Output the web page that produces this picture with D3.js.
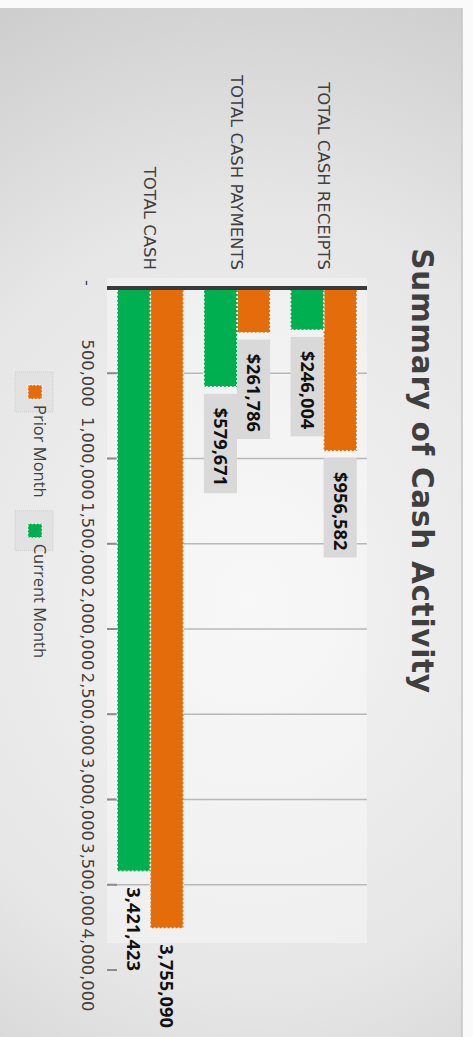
<!DOCTYPE html>
<html><head><meta charset="utf-8">
<script src="https://cdn.jsdelivr.net/npm/d3@7"></script>
<style>html,body{margin:0;padding:0;background:#fff;}svg{display:block;}</style>
</head><body><svg id="c" width="473" height="1037"></svg>
<script>
const categories = ["TOTAL CASH RECEIPTS", "TOTAL CASH PAYMENTS", "TOTAL CASH"];
const seriesNames = ["Prior Month", "Current Month"];
const priorMonth = [956582, 261786, 3755090];
const currentMonth = [246004, 579671, 3421423];
const labelPrefix = ["$", "$", ""];
const labelBoxed = [true, true, false];
const tickValues = [0, 500000, 1000000, 1500000, 2000000, 2500000, 3000000, 3500000, 4000000];
const tickLabels = ["-", "500,000", "1,000,000", "1,500,000", "2,000,000", "2,500,000", "3,000,000", "3,500,000", "4,000,000"];
const colors = ["#E46C0A", "#00B050"];

const svg = d3.select("#c");
const FONT = "'Open Sans', sans-serif";
const WIDE = "'DejaVu Sans', sans-serif";

// background panel (screen coords)
const defs = svg.append("defs");
const rg = defs.append("radialGradient").attr("id", "bg")
  .attr("gradientUnits", "userSpaceOnUse").attr("cx", 250).attr("cy", 600).attr("r", 620)
  .attr("gradientTransform", "translate(250,600) scale(1,1.15) translate(-250,-600)");
rg.append("stop").attr("offset", "0").attr("stop-color", "#f4f4f4");
rg.append("stop").attr("offset", "0.55").attr("stop-color", "#e6e6e6");
rg.append("stop").attr("offset", "1").attr("stop-color", "#c8c8c8");
svg.append("rect").attr("x", 0).attr("y", 0).attr("width", 473).attr("height", 1037).attr("fill", "#fafafa");
svg.append("rect").attr("x", 0).attr("y", 8).attr("width", 462).attr("height", 1029).attr("fill", "url(#bg)");
svg.append("line").attr("x1", 462).attr("x2", 462).attr("y1", 8).attr("y2", 1037).attr("stroke", "#c4c4c4").attr("stroke-width", 1.5);

// chart drawn in unrotated coords, then rotated 90deg clockwise
const g = svg.append("g").attr("transform", "translate(473,0) rotate(90)");

const x = d3.scaleLinear().domain([0, 4000000]).range([288, 970]);
const y = d3.scaleBand().domain(categories).range([106, 366]).paddingInner(0).paddingOuter(0);
const ys = d3.scaleBand().domain(seriesNames).range([0, y.bandwidth()]).paddingOuter(0.31).paddingInner(0);

// plot area
g.append("rect").attr("x", 278).attr("y", 106).attr("width", 943 - 278).attr("height", 260)
  .attr("fill", "#ffffff").attr("opacity", 0.35);

// gridlines
g.selectAll("line.grid").data(tickValues.filter(t => t > 0 && x(t) < 943)).enter().append("line")
  .attr("class", "grid").attr("x1", d => x(d)).attr("x2", d => x(d))
  .attr("y1", 106).attr("y2", 366).attr("stroke", "#b8b8b8").attr("stroke-width", 1.5);
// tick marks
g.selectAll("line.tick").data(tickValues.filter(t => t > 0)).enter().append("line")
  .attr("class", "tick").attr("x1", d => x(d)).attr("x2", d => x(d))
  .attr("y1", 356).attr("y2", 366).attr("stroke", "#8c8c8c").attr("stroke-width", 2);

// tick labels
g.selectAll("text.tl").data(tickValues).enter().append("text")
  .attr("class", "tl").attr("x", d => x(d)).attr("y", 391)
  .attr("dx", (d, i) => tickLabels[i] === "-" ? -5 : 0)
  .attr("text-anchor", "middle").attr("font-family", WIDE).attr("font-size", 16.3)
  .attr("fill", "#404040").text((d, i) => tickLabels[i]);

// bars
const rows = categories.map((c, i) => ({c, i, vals: [priorMonth[i], currentMonth[i]]}));
const grp = g.selectAll("g.cat").data(rows).enter().append("g").attr("class", "cat")
  .attr("transform", d => `translate(0,${y(d.c)})`);
grp.selectAll("rect.bar").data(d => d.vals.map((v, k) => ({v, k, s: seriesNames[k]}))).enter().append("rect")
  .attr("class", "bar").attr("x", x(0)).attr("y", d => ys(d.s))
  .attr("width", d => x(d.v) - x(0)).attr("height", ys.bandwidth())
  .attr("fill", d => colors[d.k]).attr("stroke", "#ffffff").attr("stroke-width", 1.5)
  .attr("stroke-dasharray", "2,2");

// data labels
const fmt = d3.format(",");
grp.each(function(d) {
  const gg = d3.select(this);
  d.vals.forEach((v, k) => {
    const cy = ys(seriesNames[k]) + ys.bandwidth() / 2;
    const t = gg.append("text").attr("x", x(v) + (labelBoxed[d.i] ? 21 : 16)).attr("y", cy)
      .attr("dy", "0.36em").attr("font-family", FONT).attr("font-weight", "bold")
      .attr("font-size", 18.3).attr("fill", "#111").text(labelPrefix[d.i] + fmt(v));
    if (labelBoxed[d.i]) {
      const w = t.node().getComputedTextLength();
      gg.insert("rect", "text").attr("x", x(v) + 7).attr("y", ys(seriesNames[k]))
        .attr("width", w + 21).attr("height", ys.bandwidth()).attr("fill", "#d9d9d9");
    }
  });
});

// baseline
g.append("line").attr("x1", x(0)).attr("x2", x(0)).attr("y1", 106).attr("y2", 366)
  .attr("stroke", "#3a3a3a").attr("stroke-width", 4);

// category labels
g.selectAll("text.cl").data(categories).enter().append("text")
  .attr("class", "cl").attr("x", 270).attr("y", d => y(d) + y.bandwidth() / 2)
  .attr("dy", "0.36em").attr("text-anchor", "end").attr("font-family", WIDE)
  .attr("font-size", 16.5).attr("fill", "#404040").text(d => d);

// title
g.append("text").attr("x", 471).attr("y", 61).attr("text-anchor", "middle")
  .attr("font-family", WIDE).attr("font-weight", "bold").attr("font-size", 29.5)
  .attr("letter-spacing", 0.7).attr("fill", "#3f3f3f").text("Summary of Cash Activity");

// legend
let lx = 372;
seriesNames.forEach((s, k) => {
  g.append("rect").attr("x", lx).attr("y", 420).attr("width", 40).attr("height", 38)
    .attr("fill", "#e2e2e2").attr("stroke", "#cfcfcf").attr("stroke-dasharray", "1,1");
  g.append("rect").attr("x", lx + 13).attr("y", 431).attr("width", 14).attr("height", 14)
    .attr("fill", colors[k]).attr("stroke", "#fff").attr("stroke-width", 1).attr("stroke-dasharray", "2,1.5");
  const t = g.append("text").attr("x", lx + 33).attr("y", 439).attr("font-family", FONT)
    .attr("font-size", 16.5).attr("fill", "#404040").text(s);
  lx = lx + 33 + t.node().getComputedTextLength() + 13;
});
</script></body></html>
